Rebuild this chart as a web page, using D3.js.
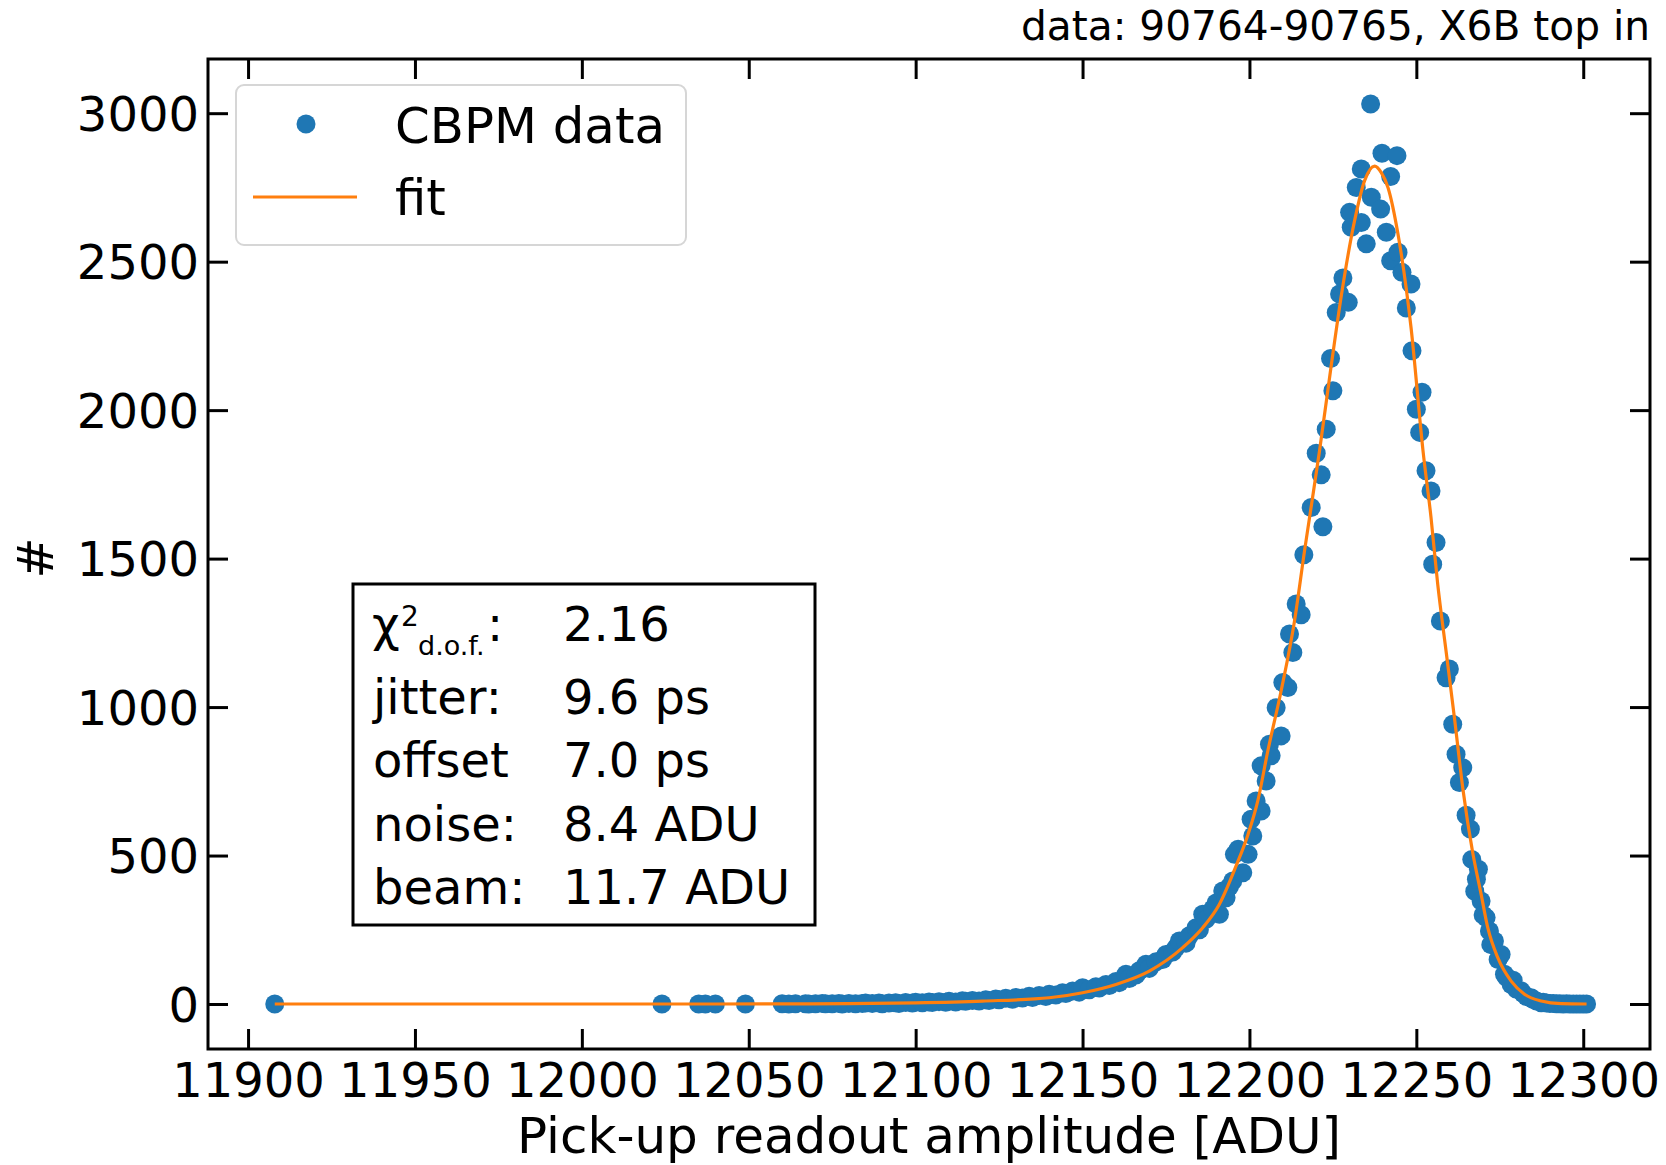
<!DOCTYPE html>
<html>
<head>
<meta charset="utf-8">
<script src="https://cdn.jsdelivr.net/npm/d3@7"></script>
<style>
  body { margin: 0; background: #fff; }
  svg { display: block; font-family: "DejaVu Sans", sans-serif; }
</style>
</head>
<body>
<svg></svg>
<script>
// histogram points (amplitude in ADU, entries)
const amplitude = [
  11908, 12024, 12035, 12037, 12040, 12049, 12060, 12062,
  12064, 12067, 12068, 12070, 12072, 12073, 12075, 12077, 12078, 12080,
  12082, 12084, 12085, 12087, 12089, 12090, 12092, 12094, 12095, 12097,
  12099, 12100, 12102, 12104, 12105, 12107, 12109, 12110, 12112, 12114,
  12115, 12117, 12119, 12121, 12122, 12124, 12125, 12127, 12129, 12130,
  12132, 12134, 12135, 12137, 12139, 12140, 12142, 12144, 12145, 12147,
  12149, 12150, 12152, 12154, 12155, 12157, 12158, 12160, 12161, 12163,
  12164, 12166, 12167, 12169, 12170, 12172, 12174, 12175, 12177, 12178,
  12179, 12181, 12182, 12184, 12185, 12186, 12187, 12189, 12190, 12191,
  12192, 12193, 12194, 12195, 12195.5, 12196.6, 12198, 12199.6, 12200.5, 12201,
  12202, 12203.5, 12203.5, 12205, 12206, 12206.5, 12208, 12209.5, 12210, 12211.5,
  12212, 12213, 12214, 12215.5, 12216.3, 12218.5, 12220, 12221.5, 12222, 12223,
  12224.3, 12225, 12226, 12227, 12228, 12229.6, 12230, 12230.5, 12232, 12233.5,
  12233.5, 12235, 12236.3, 12236.5, 12239.3, 12239.7, 12241, 12242.3, 12242.3, 12244.2,
  12244.5, 12245.7, 12247, 12248.4, 12248.7, 12250, 12251, 12251.7, 12252.9, 12254.4,
  12254.9, 12255.9, 12257.2, 12258.9, 12259.9, 12260.9, 12261.9, 12262.9, 12263.9, 12264.9,
  12266.2, 12266.6, 12267.5, 12268, 12268.6, 12269.4, 12270, 12270.9, 12271.9, 12272.3,
  12273.4, 12274.5, 12275.4, 12276.4, 12277, 12278.4, 12279, 12280, 12281.4, 12282,
  12283, 12284.4, 12285, 12286, 12287.4, 12288, 12289, 12290, 12291, 12292,
  12293, 12294, 12295, 12296, 12297, 12298, 12299, 12300, 12301
];
const entries = [
  0, 0, 0, 0, 0, 0, 1, 0,
  1, 1, 0, 1, 2, 1, 1, 2, 0, 2,
  1, 2, 3, 2, 3, 1, 3, 4, 2, 5,
  3, 6, 4, 7, 5, 8, 6, 9, 7, 11,
  9, 12, 10, 14, 12, 17, 14, 19, 16, 22,
  20, 26, 22, 29, 25, 33, 30, 38, 35, 44,
  40, 55, 48, 58, 54, 66, 62, 76, 72, 100,
  86, 98, 112, 134, 120, 142, 150, 167, 175, 190,
  212, 205, 230, 257, 250, 302, 285, 320, 340, 302,
  381, 358, 395, 414, 504, 521, 442, 504, 622, 566,
  684, 650, 802, 751, 875, 836, 998, 903, 1083, 1066,
  1246, 1184, 1347, 1311, 1513, 1672, 1855, 1782, 1607, 1936,
  2174, 2065, 2329, 2391, 2445, 2363, 2666, 2616, 2750, 2812,
  2632, 2560, 3031, 2717, 2677, 2865, 2599, 2787, 2503, 2857,
  2532, 2464, 2344, 2425, 2200, 2003, 1925, 2060, 1796, 1728,
  1481, 1554, 1290, 1099, 1128, 942, 841, 746, 796, 636,
  589, 487, 380, 420, 454, 347, 300, 291, 246, 200,
  212, 150, 167, 100, 90, 66, 80, 50, 44, 35,
  25, 21, 15, 10, 4, 6, 3, 2, 2, 1,
  1, 0, 1, 0, 0, 0, 0, 0, 0
];

// fit curve
const fitAmplitude = [
  11908, 12040, 12080, 12100, 12120, 12140, 12150, 12160, 12170, 12180,
  12186, 12191, 12196, 12199.6, 12202.5, 12205.5, 12209.5, 12213.5, 12216.5, 12221,
  12224.5, 12227.6, 12231.5, 12234.5, 12237.5, 12239.5, 12241.5, 12244.5, 12248.4, 12252,
  12254.4, 12256.4, 12258.9, 12261.4, 12264, 12266.8, 12269.4, 12271.4, 12274.4, 12278.4,
  12282.4, 12287.4, 12293.4, 12301
];
const fitEntries = [
  0, 0, 1, 4, 10, 21, 38, 66, 111, 190,
  257, 336, 465, 572, 684, 852, 1055, 1290, 1526, 1863,
  2150, 2391, 2638, 2773, 2822, 2800, 2750, 2593, 2279, 1863,
  1638, 1414, 1189, 965, 720, 515, 370, 257, 156, 77,
  33, 10, 1, 0
];

const xTicks = [11900, 11950, 12000, 12050, 12100, 12150, 12200, 12250, 12300];
const yTicks = [0, 500, 1000, 1500, 2000, 2500, 3000];

const statLabels = ["jitter:", "offset", "noise:", "beam:"];
const statValues = ["9.6 ps", "7.0 ps", "8.4 ADU", "11.7 ADU"];
const chiValue = "2.16";

const titleText = "data: 90764-90765, X6B top in";
const xLabel = "Pick-up readout amplitude [ADU]";
const yLabel = "#";
const legendNames = ["CBPM data", "fit"];

let width = 1666;
let height = 1165;
let plotLeft = 208, plotRight = 1650, plotTop = 59, plotBottom = 1049;

let blue = "#1f77b4";
let orange = "#ff7f0e";

let svg = d3.select("svg").attr("width", width).attr("height", height);

svg.append("rect").attr("width", width).attr("height", height).attr("fill", "#fff");

let xScale = d3.scaleLinear().domain([11888, 12320]).range([plotLeft, plotRight]);
let yScale = d3.scaleLinear().domain([-151.5, 3182.5]).range([plotBottom, plotTop]);

// points
let points = amplitude.map((a, i) => [a, entries[i]]);
svg.append("g")
  .selectAll("circle")
  .data(points)
  .enter()
  .append("circle")
  .attr("cx", (d) => xScale(d[0]))
  .attr("cy", (d) => yScale(d[1]))
  .attr("r", 9.5)
  .attr("fill", blue);

// fit line on top
let fitPoints = fitAmplitude.map((a, i) => [a, fitEntries[i]]);
let line = d3.line()
  .x((d) => xScale(d[0]))
  .y((d) => yScale(d[1]))
  .curve(d3.curveMonotoneX);
svg.append("path")
  .datum(fitPoints)
  .attr("d", line)
  .attr("fill", "none")
  .attr("stroke", orange)
  .attr("stroke-width", 3.2);

// axes, ticks pointing inwards on all four sides
const styleAxis = (g) => {
  g.select(".domain").remove();
  g.selectAll(".tick line").attr("stroke", "#000").attr("stroke-width", 3);
  g.selectAll(".tick text").attr("fill", "#000").style("font-size", "48px")
    .style("font-family", "DejaVu Sans");
};

let xAxisBottom = svg.append("g")
  .attr("transform", `translate(0, ${plotBottom})`)
  .call(d3.axisBottom(xScale).tickValues(xTicks).tickFormat(d3.format("d"))
    .tickSizeInner(-20).tickSizeOuter(0))
  .call(styleAxis);
xAxisBottom.selectAll(".tick text").attr("dy", null).attr("y", 48);

svg.append("g")
  .attr("transform", `translate(0, ${plotTop})`)
  .call(d3.axisTop(xScale).tickValues(xTicks).tickFormat("")
    .tickSizeInner(-20).tickSizeOuter(0))
  .call(styleAxis);

let yAxisLeft = svg.append("g")
  .attr("transform", `translate(${plotLeft}, 0)`)
  .call(d3.axisLeft(yScale).tickValues(yTicks).tickFormat(d3.format("d"))
    .tickSizeInner(-20).tickSizeOuter(0))
  .call(styleAxis);
yAxisLeft.selectAll(".tick text").attr("x", -9).attr("dy", "0.36em");

svg.append("g")
  .attr("transform", `translate(${plotRight}, 0)`)
  .call(d3.axisRight(yScale).tickValues(yTicks).tickFormat("")
    .tickSizeInner(-20).tickSizeOuter(0))
  .call(styleAxis);

// frame
svg.append("rect")
  .attr("x", plotLeft).attr("y", plotTop)
  .attr("width", plotRight - plotLeft).attr("height", plotBottom - plotTop)
  .attr("fill", "none").attr("stroke", "#000").attr("stroke-width", 3);

// axis labels and title
svg.append("text")
  .attr("x", (plotLeft + plotRight) / 2).attr("y", 1153)
  .attr("text-anchor", "middle").style("font-size", "50px")
  .text(xLabel);

svg.append("text")
  .attr("transform", "translate(53, 558) rotate(-90)")
  .attr("text-anchor", "middle").style("font-size", "49px")
  .text(yLabel);

svg.append("text")
  .attr("x", plotRight).attr("y", 40)
  .attr("text-anchor", "end").style("font-size", "40.7px")
  .text(titleText);

// legend
let legend = svg.append("g");
legend.append("rect")
  .attr("x", 236).attr("y", 85).attr("width", 450).attr("height", 160)
  .attr("rx", 8)
  .attr("fill", "#fff").attr("fill-opacity", 0.8)
  .attr("stroke", "#d6d6d6").attr("stroke-width", 2);
legend.append("circle").attr("cx", 306).attr("cy", 124).attr("r", 9.5).attr("fill", blue);
legend.append("line")
  .attr("x1", 253).attr("x2", 357).attr("y1", 197).attr("y2", 197)
  .attr("stroke", orange).attr("stroke-width", 3.2);
legend.selectAll("text.lg")
  .data(legendNames)
  .enter()
  .append("text")
  .attr("class", "lg")
  .attr("x", 395)
  .attr("y", (d, i) => [143, 215][i])
  .style("font-size", "49.8px")
  .text((d) => d);

// fit result box
let box = svg.append("g");
box.append("rect")
  .attr("x", 353).attr("y", 584).attr("width", 462).attr("height", 341)
  .attr("fill", "#fff").attr("stroke", "#000").attr("stroke-width", 3);

let chi = box.append("text").style("font-size", "48px");
chi.append("tspan").attr("x", 372).attr("y", 641).text("χ");
chi.append("tspan").attr("x", 401).attr("y", 626).style("font-size", "28px").text("2");
chi.append("tspan").attr("x", 418).attr("y", 655).style("font-size", "27px").text("d.o.f.");
chi.append("tspan").attr("x", 487).attr("y", 641).text(":");
box.append("text").attr("x", 563).attr("y", 641).style("font-size", "48px").text(chiValue);

box.selectAll("text.lab")
  .data(statLabels)
  .enter()
  .append("text")
  .attr("class", "lab")
  .attr("x", 373)
  .attr("y", (d, i) => 714 + i * 63.3)
  .style("font-size", "48px")
  .text((d) => d);

box.selectAll("text.val")
  .data(statValues)
  .enter()
  .append("text")
  .attr("class", "val")
  .attr("x", 563)
  .attr("y", (d, i) => 714 + i * 63.3)
  .style("font-size", "48px")
  .text((d) => d);
</script>
</body>
</html>
